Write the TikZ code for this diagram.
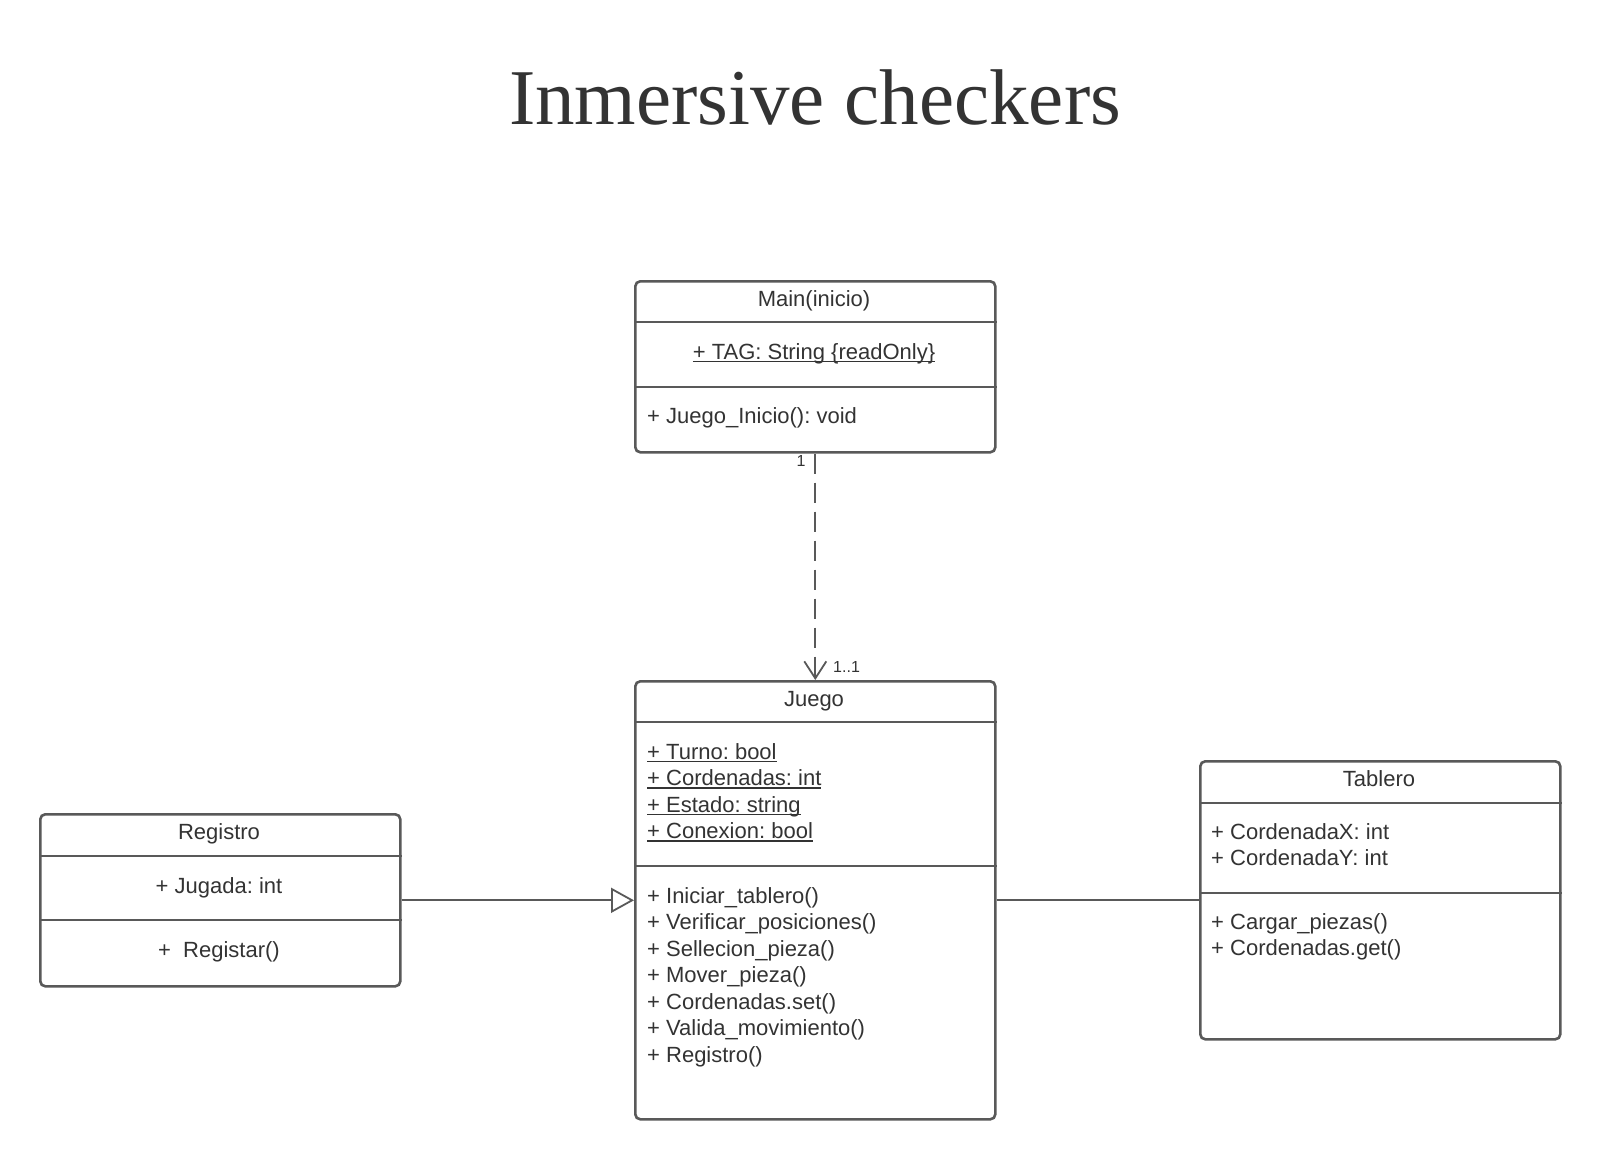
\documentclass[tikz,border=0pt]{standalone}
\usepackage{fontspec}
\setmainfont{Liberation Sans}
\newfontfamily\titlefont{Liberation Serif}
\usetikzlibrary{arrows.meta}
\definecolor{linegray}{HTML}{595959}
\definecolor{textgray}{HTML}{333333}
\newsavebox\ulbox
\newcommand\ulin[1]{\sbox\ulbox{#1}\rlap{\usebox\ulbox}\rule[-3pt]{\wd\ulbox}{1.4pt}}
\frenchspacing
\begin{document}
\begin{tikzpicture}[x=1pt,y=-1pt,
  umlbox/.style={draw=linegray, line width=2.6pt, rounded corners=5pt, fill=white, inner sep=0pt, anchor=north west},
  sepline/.style={draw=linegray, line width=2.6pt},
  txt/.style={text=textgray, font=\fontsize{22}{26}\selectfont\frenchspacing, inner sep=0pt},
  ctxt/.style={txt, anchor=base},
  ltxt/.style={txt, anchor=base west},
  small/.style={text=textgray, font=\fontsize{16}{19}\selectfont, inner sep=0pt},
  conn/.style={draw=linegray, line width=1.8pt}
]
\fill[white] (0,0) rectangle (1600,1158);
\useasboundingbox (0,0) rectangle (1600,1158);

% title
\node[anchor=base, text=textgray, font=\titlefont\fontsize{79}{90}\selectfont, inner sep=0pt] (title) at (815,125) {Inmersive checkers};

% boxes
\node[umlbox, minimum width=360pt, minimum height=171pt] (main) at (634,280) {};
\node[umlbox, minimum width=360pt, minimum height=438pt] (juego) at (634,680) {};
\node[umlbox, minimum width=360pt, minimum height=172pt] (registro) at (39,813) {};
\node[umlbox, minimum width=360pt, minimum height=278pt] (tablero) at (1199,760) {};

% separators
\draw[sepline] (main.west |- 0,322) -- (main.east |- 0,322);
\draw[sepline] (main.west |- 0,387) -- (main.east |- 0,387);
\draw[sepline] (juego.west |- 0,722) -- (juego.east |- 0,722);
\draw[sepline] (juego.west |- 0,866) -- (juego.east |- 0,866);
\draw[sepline] (registro.west |- 0,856) -- (registro.east |- 0,856);
\draw[sepline] (registro.west |- 0,920) -- (registro.east |- 0,920);
\draw[sepline] (tablero.west |- 0,803) -- (tablero.east |- 0,803);
\draw[sepline] (tablero.west |- 0,893) -- (tablero.east |- 0,893);

% Main texts
\node[ctxt] (mainname) at (814,306) {Main(inicio)};
\node[ctxt] (mainattr) at (814,359) {\ulin{+ TAG: String \{readOnly\}}};
\node[ltxt] (mainop) at (647,423) {+ Juego\_Inicio(): void};

% Juego texts
\node[ctxt] (juegoname) at (814,706) {Juego};
\node[ltxt] (ja1) at (647,759) {\ulin{+ Turno: bool}};
\node[ltxt] (ja2) at (647,785.5) {\ulin{+ Cordenadas: int}};
\node[ltxt] (ja3) at (647,812) {\ulin{+ Estado: string}};
\node[ltxt] (ja4) at (647,838.5) {\ulin{+ Conexion: bool}};
\node[ltxt] (jm1) at (647,903) {+ Iniciar\_tablero()};
\node[ltxt] (jm2) at (647,929.5) {+ Verificar\_posiciones()};
\node[ltxt] (jm3) at (647,956) {+ Sellecion\_pieza()};
\node[ltxt] (jm4) at (647,982.5) {+ Mover\_pieza()};
\node[ltxt] (jm5) at (647,1009) {+ Cordenadas.set()};
\node[ltxt] (jm6) at (647,1035.5) {+ Valida\_movimiento()};
\node[ltxt] (jm7) at (647,1062) {+ Registro()};

% Registro texts
\node[ctxt] (regname) at (219,839) {Registro};
\node[ctxt] (regattr) at (219,893) {+ Jugada: int};
\node[ctxt] (regop) at (219,957) {+\ \ Registar()};

% Tablero texts
\node[ctxt] (tabname) at (1379,786) {Tablero};
\node[ltxt] (ta1) at (1211,839) {+ CordenadaX: int};
\node[ltxt] (ta2) at (1211,865.5) {+ CordenadaY: int};
\node[ltxt] (tm1) at (1211,929) {+ Cargar\_piezas()};
\node[ltxt] (tm2) at (1211,955.5) {+ Cordenadas.get()};

% connectors
\draw[conn, dash pattern=on 20pt off 9pt, -{Straight Barb[length=17pt,width=22pt,line width=1.8pt]}] (main.south) -- (juego.north);
\node[small, anchor=center] (m1) at (801,461) {1};
\node[small, anchor=west] (m2) at (833,667) {1..1};

\draw[conn, -{Triangle[open,length=23pt,width=25pt,line width=1.8pt,fill=white]}] (registro.east) -- (juego.west);
\draw[conn] (juego.east) -- (tablero.west);
\end{tikzpicture}
\end{document}
